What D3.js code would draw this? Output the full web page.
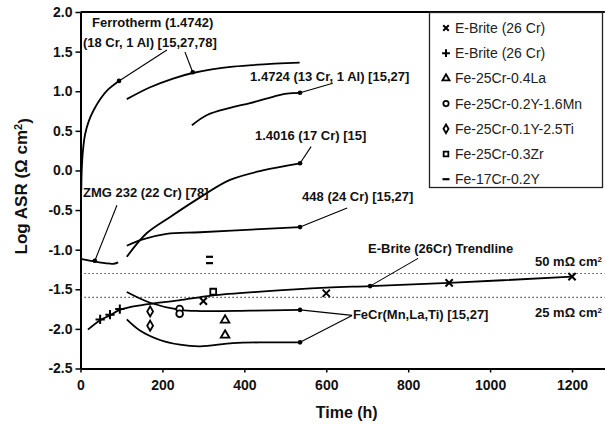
<!DOCTYPE html>
<html>
<head>
<meta charset="utf-8">
<script src="https://cdn.jsdelivr.net/npm/d3@7"></script>
<style>
    body { margin: 0; background: #fff; }
    svg { display: block; }
    text { font-family: "Liberation Sans", Arial, sans-serif; fill: #111; }
</style>
</head>
<body>
<div class="chart"></div>
<script>
// curves, [time h, log ASR]
const ferrothermEarly = [[2, -0.25], [3, 0.0], [6, 0.25], [11, 0.45], [20, 0.62], [32, 0.76], [48, 0.9], [67, 1.02], [94, 1.13]];
const ferrothermLate = [[113, 0.9], [170, 1.05], [226, 1.16], [274, 1.23], [372, 1.31], [535, 1.36]];
const alloy14724 = [[272, 0.57], [309, 0.7], [365, 0.79], [414, 0.85], [470, 0.93], [504, 0.97], [536, 0.98]];
const alloy14016 = [[113, -1.09], [162, -0.79], [218, -0.59], [292, -0.34], [365, -0.12], [445, 0.0], [536, 0.09]];
const alloy448 = [[113, -0.95], [152, -0.87], [210, -0.8], [292, -0.78], [438, -0.74], [536, -0.715]];
const zmg232 = [[3, -1.12], [35, -1.15], [60, -1.17], [79, -1.18], [92, -1.16]];
const ebriteTrend = [[18, -2.01], [48, -1.89], [72, -1.83], [96, -1.76], [150, -1.7], [240, -1.64], [320, -1.58], [440, -1.53], [600, -1.48], [707, -1.46], [900, -1.42], [1200, -1.34]];
const fecrUpper = [[113, -1.535], [170, -1.67], [243, -1.76], [292, -1.775], [414, -1.77], [536, -1.76]];
const fecrLower = [[113, -1.88], [145, -2.02], [194, -2.14], [243, -2.2], [292, -2.22], [372, -2.18], [450, -2.17], [536, -2.17]];

// point data
const ebriteCross = [[300, -1.65], [600, -1.55], [900, -1.42], [1200, -1.34]];
const ebritePlus = [[48, -1.88], [72, -1.82], [96, -1.75]];
const fe25La = [[353, -1.89], [353, -2.08]];
const fe25Mn = [[242, -1.75], [242, -1.81]];
const fe25Ti = [[170, -1.78], [170, -1.96]];
const fe25Zr = [[324, -1.53]];
const fe17Y = [[315, -1.09], [315, -1.17]];

const refLines = [{ v: Math.log10(0.05), label: "50 mΩ cm" }, { v: Math.log10(0.025), label: "25 mΩ cm" }];

const xTicks = [0, 200, 400, 600, 800, 1000, 1200];
const yTicks = [-2.5, -2.0, -1.5, -1.0, -0.5, 0.0, 0.5, 1.0, 1.5, 2.0];

const legendNames = ["E-Brite (26 Cr)", "E-Brite (26 Cr)", "Fe-25Cr-0.4La", "Fe-25Cr-0.2Y-1.6Mn", "Fe-25Cr-0.1Y-2.5Ti", "Fe-25Cr-0.3Zr", "Fe-17Cr-0.2Y"];
const legendSymbols = ["times", "plus", "triangle", "circle", "diamond", "square", "dash"];

// labels: text lines, text anchor point and leader lines (all in data units)
const notes = [
    { lines: ["Ferrotherm (1.4742)", "(18 Cr, 1 Al) [15,27,78]"], at: [28, 1.81], dx: [0, -9],
      leaders: [[[211, 1.52], [94, 1.13]], [[255, 1.495], [274, 1.24]]] },
    { lines: ["1.4724 (13 Cr, 1 Al) [15,27]"], at: [414, 1.135], dx: [0], leaders: [[[616, 1.1], [536, 0.98]]] },
    { lines: ["1.4016 (17 Cr) [15]"], at: [426, 0.39], dx: [0], leaders: [[[563, 0.3], [536, 0.09]]] },
    { lines: ["448 (24 Cr) [15,27]"], at: [541, -0.39], dx: [0], leaders: [[[651, -0.475], [536, -0.715]]] },
    { lines: ["ZMG 232 (22 Cr) [78]"], at: [6, -0.34], dx: [0], leaders: [[[89, -0.44], [35, -1.14]]] },
    { lines: ["E-Brite (26Cr) Trendline"], at: [702, -1.04], dx: [0], leaders: [[[824, -1.11], [707, -1.46]]] },
    { lines: ["FeCr(Mn,La,Ti) [15,27]"], at: [665, -1.88], dx: [0], leaders: [[[663, -1.83], [536, -1.76]], [[663, -1.83], [536, -2.17]]] }
];

const width = 605, height = 428;

const svg = d3.select(".chart").append("svg")
    .attr("width", width)
    .attr("height", height);

const x = d3.scaleLinear().domain([0, 1280]).range([80.5, 604.8]);
const y = d3.scaleLinear().domain([-2.5, 2]).range([368.5, 12]);

// axes
const xAxis = svg.append("g")
    .attr("transform", "translate(0," + y(-2.5) + ")")
    .call(d3.axisBottom(x).tickValues(xTicks).tickFormat(d => String(d)).tickSize(4).tickSizeOuter(0));
xAxis.selectAll("text").attr("dy", "1.05em").style("font-size", "14px").style("font-weight", "bold");

const yAxis = svg.append("g")
    .attr("transform", "translate(" + x(0) + ",0)")
    .call(d3.axisLeft(y).tickValues(yTicks).tickFormat(d => d.toFixed(1)).tickSize(5).tickSizeOuter(0));
yAxis.selectAll("text").attr("x", -8).style("font-size", "14px").style("font-weight", "bold");

svg.selectAll(".domain").attr("stroke", "#000").attr("stroke-width", 2);
svg.selectAll(".tick line").attr("stroke", "#000").attr("stroke-width", 1.5);

// top frame
svg.append("line")
    .attr("x1", x(0)).attr("x2", x(1280))
    .attr("y1", y(2)).attr("y2", y(2))
    .attr("stroke", "#000").attr("stroke-width", 2);

svg.append("text")
    .attr("transform", "translate(27," + y(-0.2) + ") rotate(-90)")
    .attr("text-anchor", "middle")
    .style("font-size", "17px").style("font-weight", "bold")
    .text("Log ASR (Ω cm")
    .append("tspan").attr("dy", "-0.5em").style("font-size", "11px").text("2")
    .select(function () { return this.parentNode; })
    .append("tspan").attr("dy", "0.5em").text(")");

svg.append("text")
    .attr("x", x(650)).attr("y", 418)
    .attr("text-anchor", "middle")
    .style("font-size", "16px").style("font-weight", "bold")
    .text("Time (h)");

// reference lines
refLines.forEach((r, i) => {
    svg.append("line")
        .attr("x1", x(0)).attr("x2", x(1280))
        .attr("y1", y(r.v)).attr("y2", y(r.v))
        .attr("stroke", "#222").attr("stroke-width", 1.2)
        .attr("stroke-dasharray", "1.2,2.8");
    const t = svg.append("text")
        .attr("x", x(1273)).attr("y", i === 0 ? y(-1.21) : y(-1.845))
        .attr("text-anchor", "end")
        .style("font-size", "13px").style("font-weight", "bold")
        .text(r.label);
    t.append("tspan").attr("dy", "-0.5em").style("font-size", "8px").text("2");
});

// curves
const line = d3.line()
    .x(d => x(d[0]))
    .y(d => y(d[1]))
    .curve(d3.curveCatmullRom.alpha(0.5));

[ferrothermEarly, ferrothermLate, alloy14724, alloy14016, alloy448, zmg232, ebriteTrend, fecrUpper, fecrLower]
    .forEach(c => {
        svg.append("path")
            .attr("d", line(c))
            .attr("fill", "none")
            .attr("stroke", "#000")
            .attr("stroke-width", 1.8);
    });

// markers
function drawMarker(g, kind, size) {
    if (kind === "dash") {
        g.append("line").attr("x1", -3.5).attr("x2", 3.5).attr("y1", 0).attr("y2", 0)
            .attr("stroke", "#000").attr("stroke-width", 2.2);
        return;
    }
    const types = {
        times: d3.symbolTimes, plus: d3.symbolPlus, triangle: d3.symbolTriangle,
        circle: d3.symbolCircle, diamond: d3.symbolDiamond, square: d3.symbolSquare
    };
    const open = kind !== "times" && kind !== "plus";
    g.append("path")
        .attr("d", d3.symbol(types[kind], size)())
        .attr("fill", open ? "#fff" : "none")
        .attr("stroke", "#000")
        .attr("stroke-width", open ? 1.8 : 2);
}

const pointSets = [
    [ebriteCross, "times", 36], [ebritePlus, "plus", 30], [fe25La, "triangle", 32],
    [fe25Mn, "circle", 36], [fe25Ti, "diamond", 30], [fe25Zr, "square", 34], [fe17Y, "dash", 0]
];
pointSets.forEach(([pts, kind, size]) => {
    pts.forEach(p => {
        const g = svg.append("g").attr("transform", "translate(" + x(p[0]) + "," + y(p[1]) + ")");
        drawMarker(g, kind, size);
    });
});

// annotations
notes.forEach(n => {
    n.lines.forEach((s, i) => {
        svg.append("text")
            .attr("x", x(n.at[0]) + n.dx[i]).attr("y", y(n.at[1]) + i * 20)
            .style("font-size", "13px").style("font-weight", "bold")
            .text(s);
    });
    n.leaders.forEach(l => {
        svg.append("line")
            .attr("x1", x(l[0][0])).attr("y1", y(l[0][1]))
            .attr("x2", x(l[1][0])).attr("y2", y(l[1][1]))
            .attr("stroke", "#000").attr("stroke-width", 1.1);
        svg.append("circle")
            .attr("cx", x(l[1][0])).attr("cy", y(l[1][1]))
            .attr("r", 2.3).attr("fill", "#000");
    });
});

// legend
const legend = svg.append("g");
legend.append("rect")
    .attr("x", 429.5).attr("y", 12.5)
    .attr("width", 173).attr("height", 175)
    .attr("fill", "#fff").attr("stroke", "#222").attr("stroke-width", 1.3);

legendNames.forEach((name, i) => {
    const row = legend.append("g").attr("transform", "translate(446," + (28 + i * 25.2) + ")");
    drawMarker(row, legendSymbols[i], 22);
    row.append("text")
        .attr("x", 9).attr("dy", "0.36em")
        .style("font-size", "14px").style("fill", "#222")
        .text(name);
});
</script>
</body>
</html>
